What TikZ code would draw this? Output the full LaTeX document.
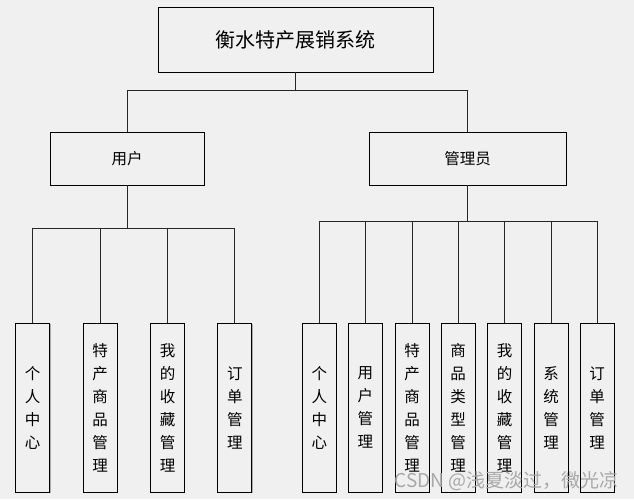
\documentclass[tikz,border=0pt]{standalone}
\usepackage{fontspec}
\setmainfont{Noto Sans CJK SC}
\usetikzlibrary{shadows}
\definecolor{bgc}{HTML}{F0F0F0}
\definecolor{wm}{HTML}{A8A8A8}
\begin{document}
\begin{tikzpicture}[x=1pt,y=-1pt,
  box/.style={draw=black, line width=0.9pt, fill=bgc, inner sep=0pt,
    drop shadow={shadow xshift=0.8pt, shadow yshift=-0.8pt, opacity=0.6, fill=gray}},
  topbox/.style={box, minimum width=275pt, minimum height=65pt, font=\fontsize{20}{24}\selectfont},
  midbox/.style={box, minimum height=53pt, font=\fontsize{15.5}{20}\selectfont},
  leaf/.style={box, minimum width=34pt, minimum height=169pt, align=center,
    font=\fontsize{15.5}{23}\selectfont},
  conn/.style={draw=black!85, line width=0.8pt}]
\fill[bgc] (0,0) rectangle (634,499);
\useasboundingbox (0,0) rectangle (634,499);

\node[topbox] (root) at (295.5,39.5) {衡水特产展销系统};
\node[midbox, minimum width=154pt] (user) at (127,158.5) {用户};
\node[midbox, minimum width=197pt] (admin) at (467.5,158.5) {管理员};

\node[leaf] (l1) at (32.7,407.5) {个\\人\\中\\心};
\node[leaf] (l2) at (100.2,407.5) {特\\产\\商\\品\\管\\理};
\node[leaf] (l3) at (167.5,407.5) {我\\的\\收\\藏\\管\\理};
\node[leaf] (l4) at (234.8,407.5) {订\\单\\管\\理};

\node[leaf] (r1) at (319.3,407.5) {个\\人\\中\\心};
\node[leaf] (r2) at (365.3,407.5) {用\\户\\管\\理};
\node[leaf] (r3) at (412,407.5) {特\\产\\商\\品\\管\\理};
\node[leaf] (r4) at (458,407.5) {商\\品\\类\\型\\管\\理};
\node[leaf] (r5) at (504.5,407.5) {我\\的\\收\\藏\\管\\理};
\node[leaf] (r6) at (551,407.5) {系\\统\\管\\理};
\node[leaf] (r7) at (597,407.5) {订\\单\\管\\理};

\foreach \t in {user,admin}
  \draw[conn] (root.south) -- ++(0,18) -| (\t.north);
\foreach \t in {l1,l2,l3,l4}
  \draw[conn] (user.south) -- ++(0,43) -| (\t.north);
\foreach \t in {r1,r2,r3,r4,r5,r6,r7}
  \draw[conn] (admin.south) -- ++(0,35.5) -| (\t.north);

\node[text=wm, font=\fontsize{19}{22}\selectfont, anchor=east, inner sep=0pt] (wmk) at (619,481) {CSDN @浅夏淡过，微光凉};
\end{tikzpicture}
\end{document}
